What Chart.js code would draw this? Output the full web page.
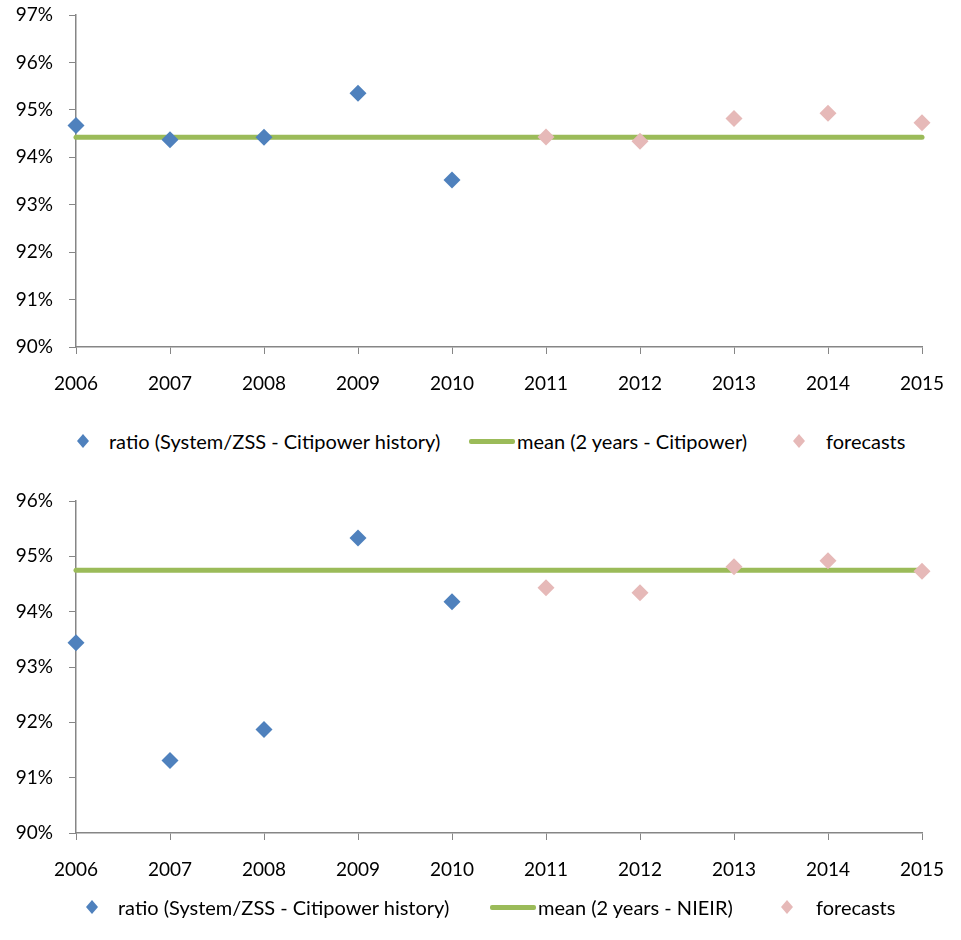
<!DOCTYPE html>
<html>
<head>
<meta charset="utf-8">
<script src="https://cdn.jsdelivr.net/npm/chart.js@4/dist/chart.umd.min.js"></script>
<style>
    body { margin: 0; background: #fff; width: 961px; height: 940px; position: relative; overflow: hidden; font-family: Lato, sans-serif; }
    .chart-box { position: absolute; left: 0; width: 961px; height: 422px; }
    .legend { position: absolute; left: 0; width: 961px; height: 26px; font-size: 20px; color: #000; }
    .legend span { position: absolute; top: 0; line-height: 26px; white-space: nowrap; }
    .diamond { width: 10px; height: 10px; transform: scaleX(0.85) rotate(45deg); margin-top: 8px; }
    .dash { height: 5px; margin-top: 11px; border-radius: 2px; background: #9BBB59; }
</style>
</head>
<body>
<div class="chart-box" style="top:0"><canvas id="chart-top" width="961" height="422"></canvas></div>
<div class="legend" style="top:428px">
    <span class="diamond" style="left:78px;background:#4F81BD"></span>
    <span style="left:109px">ratio (System/ZSS - Citipower history)</span>
    <span class="dash" style="left:469px;width:46px"></span>
    <span style="left:517px">mean (2 years - Citipower)</span>
    <span class="diamond" style="left:794px;background:#E6B9B8"></span>
    <span style="left:826px">forecasts</span>
</div>
<div class="chart-box" style="top:486px"><canvas id="chart-bottom" width="961" height="422"></canvas></div>
<div class="legend" style="top:894px">
    <span class="diamond" style="left:87px;background:#4F81BD"></span>
    <span style="left:118px">ratio (System/ZSS - Citipower history)</span>
    <span class="dash" style="left:490px;width:46px"></span>
    <span style="left:538px">mean (2 years - NIEIR)</span>
    <span class="diamond" style="left:782px;background:#E6B9B8"></span>
    <span style="left:816px">forecasts</span>
</div>
<script>
const years = ['2006', '2007', '2008', '2009', '2010', '2011', '2012', '2013', '2014', '2015'];

// top chart (Citipower mean)
const historyTop = [94.67, 94.37, 94.42, 95.35, 93.52, null, null, null, null, null];
const meanTop = [94.42, 94.42, 94.42, 94.42, 94.42, 94.42, 94.42, 94.42, 94.42, 94.42];
const forecastsTop = [null, null, null, null, null, 94.43, 94.34, 94.82, 94.93, 94.73];
const ticksTop = { min: 90, max: 97 };

// bottom chart (NIEIR mean)
const historyBottom = [93.44, 91.31, 91.87, 95.33, 94.18, null, null, null, null, null];
const meanBottom = [94.75, 94.75, 94.75, 94.75, 94.75, 94.75, 94.75, 94.75, 94.75, 94.75];
const forecastsBottom = [null, null, null, null, null, 94.43, 94.34, 94.81, 94.92, 94.73];
const ticksBottom = { min: 90, max: 96 };

const axisGrey = '#868686';
Chart.defaults.font.family = 'Lato, sans-serif';
Chart.defaults.color = '#000';

function buildChart(canvasId, history, mean, forecasts, yRange) {
    const ctx = document.getElementById(canvasId).getContext('2d');
    return new Chart(ctx, {
        type: 'line',
        data: {
            labels: years,
            datasets: [{
                label: 'ratio (System/ZSS - Citipower history)',
                data: history,
                showLine: false,
                pointStyle: 'rectRot',
                pointRadius: 8.5,
                pointHoverRadius: 8.5,
                pointBackgroundColor: '#4F81BD',
                pointBorderWidth: 0,
                borderColor: '#4F81BD',
                order: 1,
                clip: false
            }, {
                label: 'mean',
                data: mean,
                borderColor: '#9BBB59',
                borderWidth: 5,
                borderCapStyle: 'round',
                pointRadius: 0,
                tension: 0,
                order: 3,
                clip: false
            }, {
                label: 'forecasts',
                data: forecasts,
                showLine: false,
                pointStyle: 'rectRot',
                pointRadius: 8.5,
                pointHoverRadius: 8.5,
                pointBackgroundColor: '#E6B9B8',
                pointBorderWidth: 0,
                borderColor: '#E6B9B8',
                order: 2,
                clip: false
            }]
        },
        options: {
            responsive: false,
            animation: false,
            events: [],
            layout: { autoPadding: false, padding: { top: 15, right: 39, left: 0, bottom: 0 } },
            plugins: { legend: { display: false }, tooltip: { enabled: false } },
            scales: {
                x: {
                    offset: false,
                    grid: { display: true, drawOnChartArea: false, drawTicks: true, tickLength: 7, color: axisGrey },
                    border: { color: axisGrey, width: 1.5 },
                    ticks: { padding: 18, maxRotation: 0, autoSkip: false, font: { size: 19 } },
                    afterFit: function (scale) {
                        scale.height = 75;
                        scale.paddingLeft = 0;
                        scale.paddingRight = 0;
                    }
                },
                y: {
                    min: yRange.min,
                    max: yRange.max,
                    grid: { display: true, drawOnChartArea: false, drawTicks: true, tickLength: 7, color: axisGrey },
                    border: { color: axisGrey, width: 1.5 },
                    ticks: {
                        stepSize: 1,
                        padding: 16,
                        font: { size: 19 },
                        callback: function (v) { return v + '%'; }
                    },
                    afterFit: function (scale) {
                        scale.width = 76;
                        scale.paddingTop = 0;
                        scale.paddingBottom = 0;
                    }
                }
            }
        }
    });
}

buildChart('chart-top', historyTop, meanTop, forecastsTop, ticksTop);
buildChart('chart-bottom', historyBottom, meanBottom, forecastsBottom, ticksBottom);
</script>
</body>
</html>
